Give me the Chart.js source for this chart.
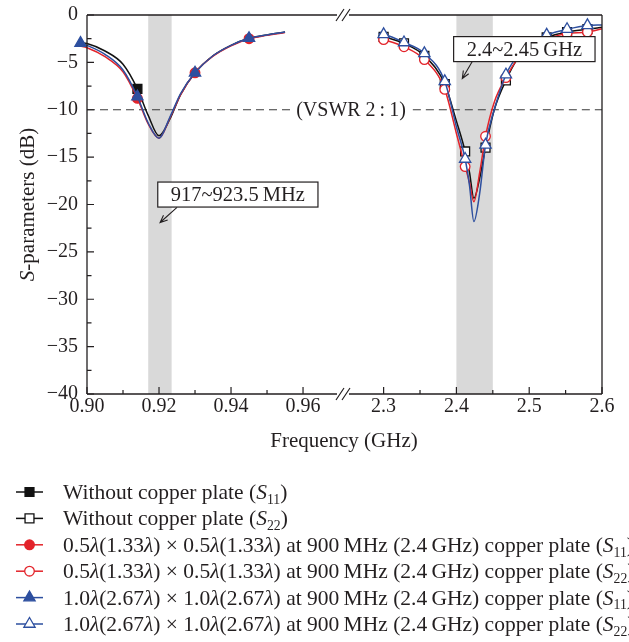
<!DOCTYPE html>
<html lang="en">
<head>
<meta charset="UTF-8">
<title>S-parameters</title>
<script src="https://cdn.jsdelivr.net/npm/chart.js"></script>
<style>
  html, body { margin: 0; padding: 0; background: #fff; }
</style>
</head>
<body>
<canvas id="sparams" width="629" height="642"></canvas>
<script>
// --- data (frequency in GHz, S-parameters in dB) ---
const lowFreq      = [0.8972, 0.8982, 0.900, 0.905, 0.910, 0.914, 0.917, 0.920, 0.923, 0.926, 0.930, 0.935, 0.940, 0.945, 0.950, 0.955];
const noPlateS11   = [-2.85, -2.92, -3.00, -3.80, -5.20, -7.80, -10.6, -12.75, -11.0, -8.40, -6.10, -4.30, -3.20, -2.45, -2.10, -1.80];
const halfPlateS11 = [-3.20, -3.28, -3.45, -4.40, -6.00, -8.80, -11.5, -13.0, -10.9, -8.40, -6.10, -4.35, -3.25, -2.50, -2.15, -1.85];
const fullPlateS11 = [-2.90, -2.97, -3.20, -4.15, -5.80, -8.60, -11.4, -13.0, -10.8, -8.30, -6.10, -4.30, -3.20, -2.45, -2.10, -1.80];
const lowMarkers   = [0.8982, 0.914, 0.930, 0.945];
const noPlateLowMarkers = [0.914];

const highFreq     = [2.293, 2.300, 2.328, 2.356, 2.384, 2.400, 2.412, 2.418, 2.424, 2.432, 2.440, 2.452, 2.468, 2.484, 2.496, 2.510, 2.524, 2.552, 2.580, 2.600];
const noPlateS22   = [-2.20, -2.30, -3.00, -4.30, -7.30, -11.2, -14.4, -16.6, -19.35, -17.2, -14.0, -10.0, -6.90, -4.60, -3.50, -2.80, -2.35, -1.80, -1.50, -1.30];
const halfPlateS22 = [-2.45, -2.60, -3.35, -4.70, -7.85, -12.5, -16.0, -17.7, -19.7, -16.6, -12.8, -9.20, -6.60, -4.60, -3.50, -2.90, -2.50, -1.95, -1.80, -1.45];
const fullPlateS22 = [-1.95, -2.04, -2.90, -4.05, -7.00, -11.8, -15.2, -18.0, -21.8, -18.8, -13.7, -10.0, -6.30, -4.30, -3.20, -2.55, -2.10, -1.50, -1.10, -1.05];
const highMarkers  = [2.300, 2.328, 2.356, 2.384, 2.412, 2.440, 2.468, 2.496, 2.524, 2.552, 2.580];

const lowTicks  = [0.90, 0.92, 0.94, 0.96];
const highTicks = [2.3, 2.4, 2.5, 2.6];
const lowBand   = [0.917, 0.9235];
const highBand  = [2.40, 2.45];
const vswrLevel = -10;

const seriesLabels = [
  'Without copper plate (S11)',
  'Without copper plate (S22)',
  '0.5λ(1.33λ) × 0.5λ(1.33λ) at 900\u2009MHz (2.4\u2009GHz) copper plate (S11)',
  '0.5λ(1.33λ) × 0.5λ(1.33λ) at 900\u2009MHz (2.4\u2009GHz) copper plate (S22)',
  '1.0λ(2.67λ) × 1.0λ(2.67λ) at 900\u2009MHz (2.4\u2009GHz) copper plate (S11)',
  '1.0λ(2.67λ) × 1.0λ(2.67λ) at 900\u2009MHz (2.4\u2009GHz) copper plate (S22)'
];

const FONT = '"Liberation Serif", "Times New Roman", serif';
const INK = '#231f20';
const RED = '#e3232a';
const BLUE = '#2d4f9f';

function series(label, axis, freq, vals, marks, color, style, filled, r, order) {
  return {
    label: label,
    xAxisID: axis,
    data: freq.map((f, i) => ({ x: f, y: vals[i] })),
    borderColor: color,
    borderWidth: 1.5,
    pointStyle: style,
    pointBorderColor: color,
    pointBackgroundColor: filled ? color : '#fff',
    pointBorderWidth: 1.3,
    pointRadius: ctx => marks.some(m => Math.abs(m - freq[ctx.dataIndex]) < 1e-6) ? r : 0,
    pointHoverRadius: 0,
    cubicInterpolationMode: 'monotone',
    clip: false,
    order: order
  };
}

// rich text: italic λ and S, subscripted port numbers
function tokens(label) {
  const m = label.match(/^(.*) \(S(\d+)\)$/);
  const base = m ? m[1] : label;
  const out = [];
  base.split('λ').forEach((part, i) => {
    if (i > 0) out.push({ t: 'λ', it: true });
    if (part) out.push({ t: part });
  });
  if (m) {
    out.push({ t: ' (' });
    out.push({ t: 'S', it: true });
    out.push({ t: m[2], sub: true });
    out.push({ t: ')' });
  }
  return out;
}

function drawTokens(ctx, toks, x, y, size, dry) {
  let cx = x;
  toks.forEach(tk => {
    const fs = tk.sub ? size * 0.64 : size;
    ctx.font = (tk.it ? 'italic ' : '') + fs + 'px ' + FONT;
    if (!dry) ctx.fillText(tk.t, cx, tk.sub ? y + size * 0.22 : y);
    cx += ctx.measureText(tk.t).width;
  });
  return cx - x;
}

function marker(ctx, style, x, y, r, stroke, fill, lw) {
  ctx.beginPath();
  if (style === 'rect') {
    const s = r * Math.SQRT1_2;
    ctx.rect(x - s, y - s, 2 * s, 2 * s);
  } else if (style === 'triangle') {
    for (let k = 0; k < 3; k++) {
      const a = k * 2 * Math.PI / 3;
      const px = x + Math.sin(a) * r, py = y - Math.cos(a) * r;
      k ? ctx.lineTo(px, py) : ctx.moveTo(px, py);
    }
    ctx.closePath();
  } else {
    ctx.arc(x, y, r, 0, 2 * Math.PI);
  }
  ctx.fillStyle = fill;
  ctx.fill();
  ctx.lineWidth = lw;
  ctx.strokeStyle = stroke;
  ctx.stroke();
}

function arrow(ctx, x0, y0, x1, y1) {
  const ang = Math.atan2(y1 - y0, x1 - x0);
  ctx.beginPath();
  ctx.moveTo(x0, y0);
  ctx.lineTo(x1, y1);
  ctx.moveTo(x1 - 8 * Math.cos(ang - 0.4), y1 - 8 * Math.sin(ang - 0.4));
  ctx.lineTo(x1, y1);
  ctx.lineTo(x1 - 8 * Math.cos(ang + 0.4), y1 - 8 * Math.sin(ang + 0.4));
  ctx.stroke();
}

function labelBox(ctx, text, cx, cy) {
  ctx.font = '20.5px ' + FONT;
  const w = ctx.measureText(text).width + 26, h = 25;
  ctx.fillStyle = '#fff';
  ctx.fillRect(cx - w / 2, cy - h / 2, w, h);
  ctx.strokeStyle = INK;
  ctx.lineWidth = 1.2;
  ctx.strokeRect(cx - w / 2, cy - h / 2, w, h);
  ctx.fillStyle = INK;
  ctx.textAlign = 'center';
  ctx.textBaseline = 'middle';
  ctx.fillText(text, cx, cy + 1);
}

const decor = {
  id: 'decor',
  beforeDatasetsDraw(chart) {
    const { ctx, chartArea: a, scales: { xl, xr, y } } = chart;
    ctx.save();
    ctx.fillStyle = '#d9d9d9';
    let p0 = xl.getPixelForValue(lowBand[0]), p1 = xl.getPixelForValue(lowBand[1]);
    ctx.fillRect(p0, a.top, p1 - p0, a.bottom - a.top);
    p0 = xr.getPixelForValue(highBand[0]); p1 = xr.getPixelForValue(highBand[1]);
    ctx.fillRect(p0, a.top, p1 - p0, a.bottom - a.top);

    // VSWR 2:1 reference line
    const yv = y.getPixelForValue(vswrLevel);
    const txt = '(VSWR 2\u2009:\u20091)';
    ctx.font = '20px ' + FONT;
    const w = ctx.measureText(txt).width;
    const cx = xl.right + 8;
    ctx.strokeStyle = '#3a3a3a';
    ctx.lineWidth = 1.1;
    ctx.setLineDash([8, 5]);
    ctx.beginPath();
    ctx.moveTo(a.left, yv); ctx.lineTo(cx - w / 2 - 5, yv);
    ctx.moveTo(cx + w / 2 + 7, yv); ctx.lineTo(a.right, yv);
    ctx.stroke();
    ctx.setLineDash([]);
    ctx.fillStyle = INK;
    ctx.textAlign = 'center';
    ctx.textBaseline = 'middle';
    ctx.fillText(txt, cx, yv + 1);
    ctx.restore();
  },
  afterDatasetsDraw(chart) {
    const { ctx, scales: { xl, xr, y } } = chart;
    ctx.save();
    ctx.strokeStyle = INK;
    ctx.lineWidth = 1.1;
    arrow(ctx, xl.getPixelForValue(0.925), y.getPixelForValue(-20.3), xl.getPixelForValue(0.9203), y.getPixelForValue(-21.9));
    arrow(ctx, xr.getPixelForValue(2.4218), y.getPixelForValue(-4.9), xr.getPixelForValue(2.4081), y.getPixelForValue(-6.7));
    labelBox(ctx, '917~923.5\u2009MHz', xl.getPixelForValue(0.9419), y.getPixelForValue(-18.95));
    labelBox(ctx, '2.4~2.45\u2009GHz', xr.getPixelForValue(2.4933), y.getPixelForValue(-3.6));
    ctx.restore();
  },
  afterDraw(chart) {
    const { ctx, chartArea: a, scales: { xl, xr, y } } = chart;
    const brk = xl.right;
    ctx.save();
    ctx.strokeStyle = INK;
    ctx.lineWidth = 1.3;
    ctx.beginPath();
    // frame with axis break
    [a.top, a.bottom].forEach(yy => {
      ctx.moveTo(a.left, yy); ctx.lineTo(brk - 6, yy);
      ctx.moveTo(brk + 6, yy); ctx.lineTo(a.right, yy);
    });
    ctx.moveTo(a.left, a.top); ctx.lineTo(a.left, a.bottom);
    ctx.moveTo(a.right, a.top); ctx.lineTo(a.right, a.bottom);
    ctx.stroke();
    ctx.lineWidth = 1.2;
    ctx.beginPath();
    [a.top, a.bottom].forEach(yy => {
      [-3, 3].forEach(dx => {
        ctx.moveTo(brk + dx - 4, yy + 6);
        ctx.lineTo(brk + dx + 4, yy - 6);
      });
    });
    ctx.stroke();

    // inward ticks
    ctx.lineWidth = 1.2;
    ctx.beginPath();
    const xTick = (scale, ticks) => {
      ticks.forEach((v, i) => {
        const px = scale.getPixelForValue(v);
        ctx.moveTo(px, a.bottom); ctx.lineTo(px, a.bottom - 7);
        if (i < ticks.length - 1) {
          const pm = scale.getPixelForValue((v + ticks[i + 1]) / 2);
          ctx.moveTo(pm, a.bottom); ctx.lineTo(pm, a.bottom - 4);
        }
      });
    };
    xTick(xl, lowTicks);
    xTick(xr, highTicks);
    for (let v = 0; v >= -40; v -= 2.5) {
      const py = y.getPixelForValue(v);
      ctx.moveTo(a.left, py); ctx.lineTo(a.left + (v % 5 === 0 ? 7 : 4.5), py);
    }
    ctx.stroke();

    // axis titles
    ctx.fillStyle = INK;
    ctx.textAlign = 'center';
    ctx.textBaseline = 'middle';
    ctx.font = '21px ' + FONT;
    ctx.fillText('Frequency (GHz)', brk + 1, 441);
    ctx.textAlign = 'left';
    ctx.textBaseline = 'alphabetic';
    const yt = [{ t: 'S', it: true }, { t: '-parameters (dB)' }];
    const tw = drawTokens(ctx, yt, 0, 0, 21, true);
    ctx.save();
    ctx.translate(27, (a.top + a.bottom) / 2);
    ctx.rotate(-Math.PI / 2);
    drawTokens(ctx, yt, -tw / 2, 7, 21, false);
    ctx.restore();

    // legend
    chart.data.datasets.forEach((ds, i) => {
      const cy = 492 + i * 26.4;
      ctx.strokeStyle = ds.borderColor;
      ctx.lineWidth = 1.5;
      ctx.beginPath();
      ctx.moveTo(16, cy); ctx.lineTo(43, cy);
      ctx.stroke();
      const r = ds.pointStyle === 'rect' ? 6.3 : ds.pointStyle === 'triangle' ? 6.5 : 4.8;
      marker(ctx, ds.pointStyle, 29.5, cy, r, ds.pointBorderColor, ds.pointBackgroundColor, 1.3);
      ctx.fillStyle = INK;
      drawTokens(ctx, tokens(ds.label), 63, cy + 7, 21.5, false);
    });
    ctx.restore();
  }
};

const fmtY = v => v === 0 ? '0' : '\u2212' + Math.abs(v);
const isOn = (v, list) => list.some(t => Math.abs(t - v) < 1e-6);
const noPad = s => { s.paddingTop = 0; s.paddingBottom = 0; s.paddingLeft = 0; s.paddingRight = 0; };

new Chart(document.getElementById('sparams'), {
  type: 'line',
  data: {
    datasets: [
      series(seriesLabels[0], 'xl', lowFreq, noPlateS11, noPlateLowMarkers, '#111', 'rect', true, 6.3, 3),
      series(seriesLabels[1], 'xr', highFreq, noPlateS22, highMarkers, '#111', 'rect', false, 6.3, 3),
      series(seriesLabels[2], 'xl', lowFreq, halfPlateS11, lowMarkers, RED, 'circle', true, 4.8, 2),
      series(seriesLabels[3], 'xr', highFreq, halfPlateS22, highMarkers, RED, 'circle', false, 4.8, 2),
      series(seriesLabels[4], 'xl', lowFreq, fullPlateS11, lowMarkers, BLUE, 'triangle', true, 6.5, 1),
      series(seriesLabels[5], 'xr', highFreq, fullPlateS22, highMarkers, BLUE, 'triangle', false, 6.5, 1)
    ]
  },
  options: {
    responsive: false,
    animation: false,
    layout: { padding: { left: 0, right: 27, top: 15, bottom: 0 } },
    plugins: { legend: { display: false }, tooltip: { enabled: false } },
    scales: {
      xl: {
        type: 'linear', position: 'bottom', stack: 'freq', stackWeight: 256,
        min: 0.9, max: 0.9711,
        grid: { display: false, drawTicks: false }, border: { display: false },
        ticks: {
          stepSize: 0.01, autoSkip: false, maxRotation: 0, padding: 1,
          color: INK, font: { family: FONT, size: 20 },
          callback: v => isOn(v, lowTicks) ? v.toFixed(2) : ''
        },
        afterFit: s => { s.height = 248; noPad(s); }
      },
      xr: {
        type: 'linear', position: 'bottom', stack: 'freq', stackWeight: 259,
        min: 2.2442, max: 2.6,
        grid: { display: false, drawTicks: false }, border: { display: false },
        ticks: {
          stepSize: 0.05, autoSkip: false, maxRotation: 0, padding: 1,
          color: INK, font: { family: FONT, size: 20 },
          callback: v => isOn(v, highTicks) ? v.toFixed(1) : ''
        },
        afterFit: s => { s.height = 248; noPad(s); }
      },
      y: {
        min: -40, max: 0,
        grid: { display: false, drawTicks: false }, border: { display: false },
        ticks: { stepSize: 5, padding: 9, color: INK, font: { family: FONT, size: 20 }, callback: fmtY },
        afterFit: s => { s.width = 87; noPad(s); }
      }
    }
  },
  plugins: [decor]
});
</script>
</body>
</html>
